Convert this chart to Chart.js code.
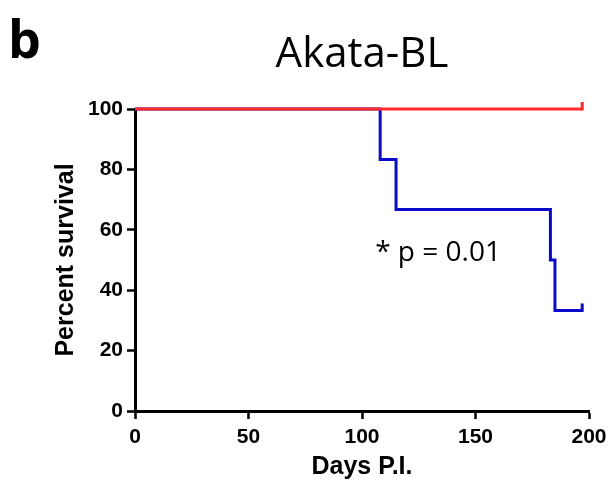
<!DOCTYPE html>
<html>
<head>
<meta charset="utf-8">
<script src="https://cdn.jsdelivr.net/npm/chart.js@4/dist/chart.umd.min.js"></script>
<style>
    html, body { margin: 0; padding: 0; background: #fff; }
    #wrap { width: 609px; height: 484px; position: relative; }
</style>
</head>
<body>
<div id="wrap"><canvas id="survChart"></canvas></div>
<script>
// Kaplan-Meier steps (days, percent)
const controlDays = [0, 197];
const controlSurvival = [100, 100];
const treatedDays = [0, 108, 115, 183, 185, 197];
const treatedSurvival = [100, 83.3, 66.7, 50, 33.3, 33.3];
// censored points (tick marks at the end of each curve)
const controlCensor = [[197, 100]];
const treatedCensor = [[197, 33.3]];

const xTicks = [0, 50, 100, 150, 200];
const yTicks = [0, 20, 40, 60, 80, 100];

const panelLetter = "b";
const chartTitle = "Akata-BL";
const pLabel = "* p = 0.01";
const pLabelAt = [105.8, 49.7];

function toPoints(xs, ys) {
    return xs.map((x, i) => ({ x: x, y: ys[i] }));
}

const censorTicks = {
    id: "censorTicks",
    afterDatasetsDraw(chart) {
        const ctx = chart.ctx;
        const xs = chart.scales.x;
        const ys = chart.scales.y;
        chart.data.datasets.forEach(ds => {
            (ds.censor || []).forEach(p => {
                const px = xs.getPixelForValue(p[0]);
                const py = ys.getPixelForValue(p[1]);
                ctx.save();
                ctx.strokeStyle = ds.borderColor;
                ctx.lineWidth = ds.borderWidth;
                ctx.beginPath();
                ctx.moveTo(px, py + ds.borderWidth / 2);
                ctx.lineTo(px, py - 7);
                ctx.stroke();
                ctx.restore();
            });
        });
    }
};

const labels = {
    id: "labels",
    afterDraw(chart) {
        const ctx = chart.ctx;
        ctx.save();
        ctx.fillStyle = "#000";
        ctx.textBaseline = "alphabetic";

        ctx.font = "bold 52px 'Open Sans'";
        ctx.textAlign = "left";
        ctx.fillText(panelLetter, 8, 58);

        ctx.font = "42px 'Open Sans'";
        ctx.textAlign = "center";
        ctx.fillText(chartTitle, 362, 67);

        ctx.font = "28px 'Open Sans'";
        ctx.textAlign = "left";
        ctx.fillText(pLabel,
            chart.scales.x.getPixelForValue(pLabelAt[0]),
            chart.scales.y.getPixelForValue(pLabelAt[1]));
        ctx.restore();
    }
};

new Chart(document.getElementById("survChart"), {
    type: "line",
    data: {
        datasets: [
            // dataset 0 is painted last, so the red line sits on top
            {
                label: "Control",
                data: toPoints(controlDays, controlSurvival),
                censor: controlCensor,
                borderColor: "#ff2a2a",
                borderWidth: 3,
                stepped: "before",
                pointRadius: 0,
                clip: false
            },
            {
                label: "Treated",
                data: toPoints(treatedDays, treatedSurvival),
                censor: treatedCensor,
                borderColor: "#0a0ac8",
                borderWidth: 3,
                stepped: "before",
                pointRadius: 0,
                clip: false
            }
        ]
    },
    options: {
        responsive: true,
        maintainAspectRatio: false,
        animation: false,
        layout: {
            padding: { left: 0, top: 109, right: 20, bottom: 0 }
        },
        plugins: {
            legend: { display: false },
            tooltip: { enabled: false }
        },
        scales: {
            x: {
                type: "linear",
                min: 0,
                max: 200,
                afterFit: s => {
                    s.height = 73;
                    s.paddingLeft = 0;
                    s.paddingRight = 0;
                },
                afterBuildTicks: s => { s.ticks = xTicks.map(v => ({ value: v })); },
                border: { color: "#000", width: 3 },
                grid: {
                    drawOnChartArea: false,
                    drawTicks: true,
                    tickLength: 8,
                    tickWidth: 2.5,
                    tickColor: "#000"
                },
                ticks: {
                    color: "#000",
                    padding: 6,
                    maxRotation: 0,
                    font: { family: "Arial, 'Liberation Sans'", size: 21, weight: "bold" }
                },
                title: {
                    display: true,
                    text: "Days P.I.",
                    color: "#000",
                    padding: { top: 0, bottom: 2 },
                    font: { family: "Arial, 'Liberation Sans'", size: 25, weight: "bold" }
                }
            },
            y: {
                type: "linear",
                min: 0,
                max: 100,
                afterFit: s => { s.width = 135; },
                afterBuildTicks: s => { s.ticks = yTicks.map(v => ({ value: v })); },
                border: { color: "#000", width: 3 },
                grid: {
                    drawOnChartArea: false,
                    drawTicks: true,
                    tickLength: 8,
                    tickWidth: 2.5,
                    tickColor: "#000"
                },
                ticks: {
                    color: "#000",
                    padding: 4,
                    font: { family: "Arial, 'Liberation Sans'", size: 21, weight: "bold" }
                },
                title: {
                    display: true,
                    text: "Percent survival",
                    color: "#000",
                    padding: { top: 51, bottom: 0 },
                    font: { family: "Arial, 'Liberation Sans'", size: 25, weight: "bold" }
                }
            }
        }
    },
    plugins: [censorTicks, labels]
});
</script>
</body>
</html>
